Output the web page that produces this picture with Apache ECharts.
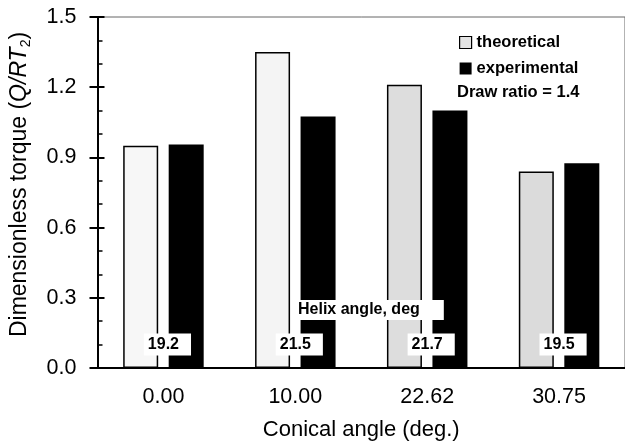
<!DOCTYPE html>
<html>
<head>
<meta charset="utf-8">
<script src="https://cdn.jsdelivr.net/npm/echarts@6/dist/echarts.min.js"></script>
<style>
  html, body { margin: 0; padding: 0; background: #fff; }
  #chart { width: 625px; height: 446px; }
</style>
</head>
<body>
<div id="chart"></div>
<script>
// Conical angle categories (deg.)
const conicalAngles = ['0.00', '10.00', '22.62', '30.75'];
// Dimensionless torque Q/RT2
const theoretical = [0.95, 1.35, 1.21, 0.84];
const experimental = [0.955, 1.075, 1.10, 0.875];
// Helix angle for each conical angle (deg)
const helixAngles = ['19.2', '21.5', '21.7', '19.5'];
// Value axis ticks
const yTicks = { min: 0, max: 1.5, interval: 0.3 };

const FONT = 'Liberation Sans, Arial, sans-serif';
const HELIX_LABEL_Y = 0.1;

// light stippled fills of the theoretical bars
const theoFills = ['#f7f7f7', '#f4f4f4', '#dddddd', '#dbdbdb'];

const chart = echarts.init(document.getElementById('chart'), null, { renderer: 'canvas' });

const option = {
  animation: false,
  backgroundColor: '#fff',
  grid: {
    left: 95, top: 17, width: 532, bottom: 77,
    show: true, borderColor: '#666', borderWidth: 1
  },
  legend: {
    orient: 'vertical',
    left: 459, top: 34,
    padding: 0,
    itemWidth: 12, itemHeight: 12, itemGap: 9,
    icon: 'rect',
    textStyle: { fontFamily: FONT, fontWeight: 'bold', fontSize: 16.5, color: '#000' },
    data: [
      { name: 'theoretical', itemStyle: { color: '#e4e4e4', borderColor: '#000', borderWidth: 1.2 } },
      { name: 'experimental', itemStyle: { color: '#000' } }
    ]
  },
  xAxis: {
    type: 'category',
    data: conicalAngles,
    boundaryGap: true,
    name: 'Conical angle (deg.)',
    nameLocation: 'middle',
    nameGap: 51,
    nameTextStyle: { fontFamily: FONT, fontSize: 22, color: '#000' },
    axisLine: { lineStyle: { color: '#000', width: 2 } },
    axisTick: { show: false },
    axisLabel: { fontFamily: FONT, fontSize: 21.5, color: '#000', margin: 18 },
    splitLine: { show: false }
  },
  yAxis: [
    {
      type: 'value',
      min: yTicks.min, max: yTicks.max, interval: yTicks.interval,
      name: '{n|Dimensionless torque (}{i|Q/RT}{s|2}{n|)}',
      nameLocation: 'middle',
      nameGap: 64,
      nameRotate: 90,
      nameTextStyle: {
        fontFamily: FONT, fontSize: 23, color: '#000',
        padding: [0, 0, 0, 16],
        rich: {
          n: { fontFamily: FONT, fontSize: 23, color: '#000', lineHeight: 28 },
          i: { fontFamily: FONT, fontSize: 23, fontStyle: 'italic', color: '#000', lineHeight: 28 },
          s: { fontFamily: FONT, fontSize: 14, color: '#000', lineHeight: 14, verticalAlign: 'bottom' }
        }
      },
      axisLine: { show: true, lineStyle: { color: '#000', width: 2 } },
      axisTick: { show: true, inside: false, length: 8, lineStyle: { color: '#000', width: 2 } },
      axisLabel: {
        fontFamily: FONT, fontSize: 21.5, color: '#000', margin: 21,
        formatter: v => v.toFixed(1)
      },
      splitLine: { show: false }
    },
    {
      type: 'value',
      position: 'left',
      min: yTicks.min, max: yTicks.max, interval: yTicks.interval,
      axisLine: { show: true, lineStyle: { color: '#000', width: 2 } },
      axisTick: { show: true, inside: true, length: 7, lineStyle: { color: '#000', width: 2 } },
      minorTick: { show: true, splitNumber: 3, length: 5, lineStyle: { color: '#000', width: 1.5 } },
      axisLabel: { show: false },
      splitLine: { show: false }
    }
  ],
  series: [
    {
      name: 'theoretical',
      type: 'bar',
      barWidth: 35,
      barGap: '30%',
      data: theoretical.map((v, i) => ({
        value: v,
        itemStyle: { color: theoFills[i] }
      })),
      itemStyle: { borderColor: '#000', borderWidth: 1.5 }
    },
    {
      name: 'experimental',
      type: 'bar',
      barWidth: 35,
      barGap: '30%',
      data: experimental,
      itemStyle: { color: '#000' }
    },
    {
      name: 'helix',
      type: 'scatter',
      symbolSize: 0,
      z: 10,
      itemStyle: { opacity: 1 },
      data: helixAngles.map((h, i) => [conicalAngles[i], HELIX_LABEL_Y, h]),
      label: {
        show: true,
        position: 'inside',
        offset: [4, 0],
        formatter: p => p.data[2],
        fontFamily: FONT, fontWeight: 'bold', fontSize: 16, color: '#000',
        opacity: 1,
        backgroundColor: '#fff',
        padding: [3, 12, 3, 4]
      },
      emphasis: { disabled: true }
    }
  ],
  graphic: [
    {
      type: 'text',
      left: 293, top: 300, z: 20,
      style: {
        text: 'Helix angle, deg',
        font: 'bold 16px ' + FONT,
        fill: '#000',
        backgroundColor: '#fff',
        padding: [2, 24, 2, 5]
      }
    },
    {
      type: 'text',
      left: 457, top: 84, z: 20,
      style: {
        text: 'Draw ratio = 1.4',
        font: 'bold 16.5px ' + FONT,
        fill: '#000'
      }
    }
  ]
};

chart.setOption(option);
</script>
</body>
</html>
